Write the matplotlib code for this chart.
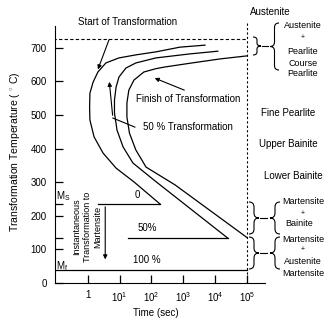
import numpy as np
import matplotlib
matplotlib.use("Agg")
import matplotlib.pyplot as plt
from matplotlib.path import Path
from matplotlib.patches import PathPatch
from matplotlib.transforms import Affine2D

plt.rcParams['font.family'] = ['Liberation Sans', 'DejaVu Sans']
plt.rcParams['mathtext.fontset'] = 'custom'
plt.rcParams['mathtext.rm'] = 'Liberation Sans'
plt.rcParams['mathtext.it'] = 'Liberation Sans:italic'

# curves: log10(time in s) and temperature in C
start_logt = [3.68, 2.89, 2.14, 1.51, 0.98, 0.57, 0.32, 0.17, 0.07, 0.06, 0.07, 0.20,
              0.48, 0.89, 1.45, 1.86, 2.27]
start_temp = [708, 702, 688, 679, 670, 655, 628, 598, 565, 524, 485, 435,
              387, 342, 301, 268, 235]
half_logt = [4.08, 3.21, 2.14, 1.51, 1.20, 0.98, 0.89, 0.84, 0.84, 0.92, 1.11, 1.42,
             2.11, 4.40]
half_temp = [690, 682, 670, 655, 640, 613, 583, 545, 506, 455, 405, 357,
             304, 133]
finish_logt = [4.99, 4.15, 3.27, 2.42, 2.14, 1.76, 1.45, 1.29, 1.23, 1.23, 1.31, 1.51,
               1.83, 2.74, 5.0]
finish_temp = [676, 667, 655, 643, 638, 628, 604, 574, 536, 494, 446, 396,
               345, 292, 135]

eutectoid = 727
ms_temp = 235
mf_temp = 40
half_line_temp = 133
ms_start, ms_end = 0.32, 2.27
half_start, half_end = 1.26, 4.40
t_end = 5

xtick_exp = [0, 1, 2, 3, 4, 5]
xtick_labels = ['1', '$10^{1}$', '$10^{2}$', '$10^{3}$', '$10^{4}$', '$10^{5}$']
ytick_vals = [0, 100, 200, 300, 400, 500, 600, 700]

W, H = 332, 323
fig = plt.figure(figsize=(W / 100, H / 100), dpi=100)
ax = fig.add_axes([55 / W, 1 - 283 / H, 210 / W, 257 / H])
px = Affine2D().scale(1 / W, -1 / H).translate(0, 1) + fig.transFigure

def t(v):
    return 10 ** np.asarray(v, dtype=float)

k = dict(color='black', lw=0.9, solid_joinstyle='round')
ax.plot(t(start_logt), start_temp, **k)
ax.plot(t(half_logt), half_temp, **k)
ax.plot(t(finish_logt), finish_temp, **k)
ax.plot(t([ms_start, ms_end]), [ms_temp, ms_temp], **k)
ax.plot(t([half_start, half_end]), [half_line_temp, half_line_temp], **k)
ax.plot(t([-1.1, t_end]), [mf_temp, mf_temp], **k)

ax.plot(t([-1.1, t_end]), [eutectoid, eutectoid], color='black', lw=0.8,
        ls=(0, (3, 2)))
ax.plot(t([t_end, t_end]), [0, 780], color='black', lw=0.8, ls=(0, (2, 2)),
        clip_on=False)

ax.set_xscale('log')
ax.set_xlim(10 ** -1.025, 10 ** 5.56)
ax.set_ylim(0, 765)
for s in ['top', 'right']:
    ax.spines[s].set_visible(False)
ax.set_xticks(t(xtick_exp))
ax.set_xticklabels(xtick_labels)
ax.xaxis.set_minor_locator(matplotlib.ticker.NullLocator())
ax.set_yticks(ytick_vals + [half_line_temp, ms_temp])
ax.set_yticklabels([str(v) for v in ytick_vals] + ['', ''])
ax.tick_params(direction='in', length=6, width=0.9, labelsize=7)
ax.tick_params(axis='y', pad=6)
ax.tick_params(axis='x', pad=5)

arr = dict(arrowstyle='-|>', color='black', lw=0.8, mutation_scale=6)
ax.annotate('', xy=(t(0.29), 628), xytext=(t(0.70), 732), arrowprops=arr,
            annotation_clip=False)
ax.annotate('', xy=(t(2.02), 613), xytext=(t(3.11), 571), arrowprops=arr)
ax.plot(t([1.48, 0.79]), [464, 491], color='black', lw=0.8)
ax.annotate('', xy=(t(0.67), 607), xytext=(t(0.79), 491), arrowprops=arr)
ax.annotate('', xy=(t(0.55), 62), xytext=(t(0.55), ms_temp), arrowprops=arr)

fs = 7
ax.text(t(3.14), 548, 'Finish of Transformation', fontsize=fs, ha='center', va='center')
ax.text(t(3.14), 464, '50 % Transformation', fontsize=fs, ha='center', va='center')
ax.text(t(1.55), 262, '0', fontsize=fs, ha='center', va='center')
ax.text(t(1.86), 164, '50%', fontsize=fs, ha='center', va='center')
ax.text(t(1.86), 68, '100 %', fontsize=fs, ha='center', va='center')
ax.text(t(-0.99), 259, 'M$_{\\mathrm{S}}$', fontsize=fs, ha='left', va='center')
ax.text(t(-0.99), 51, 'M$_{\\mathrm{f}}$', fontsize=fs, ha='left', va='center')
ax.text(t(-0.02), 167, 'Instantaneous\nTransformation to\nMartensite', fontsize=6.5,
        rotation=90, ha='center', va='center', linespacing=1.25)

def ftext(x, y, s, size=fs, **kw):
    fig.text(x, y, s, fontsize=size, ha='center', va='center', transform=px, **kw)

ftext(128, 22, 'Start of Transformation')
ftext(156, 313, 'Time (sec)')
ftext(15, 152, 'Transformation Temperature ( $^{\\circ}$ C)', size=7.5, rotation=90)
ftext(270, 12, 'Austenite')
ftext(303, 25, 'Austenite', 6.5)
ftext(303, 38, '+', 5)
ftext(303, 52, 'Pearlite', 6.5)
ftext(303, 63, 'Course', 6.5)
ftext(303, 74, 'Pearlite', 6.5)
ftext(288, 113, 'Fine Pearlite')
ftext(288, 144, 'Upper Bainite')
ftext(293, 176, 'Lower Bainite')
ftext(303, 202, 'Martensite', 6.5)
ftext(303, 213, '+', 5)
ftext(299, 224, 'Bainite', 6.5)
ftext(303, 240, 'Martensite', 6.5)
ftext(303, 250, '+', 5)
ftext(303, 262, 'Austenite', 6.5)
ftext(303, 273, 'Martensite', 6.5)

def brace(x, y0, y1, w):
    # vertical curly brace in pixel coords, tip at x + w
    ym = (y0 + y1) / 2
    xm = x + w / 2
    r = min(abs(w) / 2, (y1 - y0) / 6)
    verts = [(x, y0), (xm, y0), (xm, y0 + r), (xm, ym - r), (xm, ym), (x + w, ym),
             (xm, ym), (xm, ym + r), (xm, y1 - r), (xm, y1), (x, y1)]
    codes = [Path.MOVETO, Path.CURVE3, Path.CURVE3, Path.LINETO, Path.CURVE3,
             Path.CURVE3, Path.CURVE3, Path.CURVE3, Path.LINETO, Path.CURVE3,
             Path.CURVE3]
    fig.add_artist(PathPatch(Path(verts, codes), fill=False, lw=0.8,
                             edgecolor='black', transform=px))

def link(x0, x1, y):
    fig.add_artist(plt.Line2D([x0, x1], [y, y], lw=0.8, color='black', transform=px))

brace(253, 37, 55, 8)
link(262, 268, 46)
brace(279, 23, 70, -9)
brace(249, 202, 234, 10)
link(260, 267, 218)
brace(280, 202, 234, -10)
brace(249, 237, 269, 10)
link(260, 267, 253)
brace(280, 237, 269, -10)

fig.savefig('out.png', dpi=100)
